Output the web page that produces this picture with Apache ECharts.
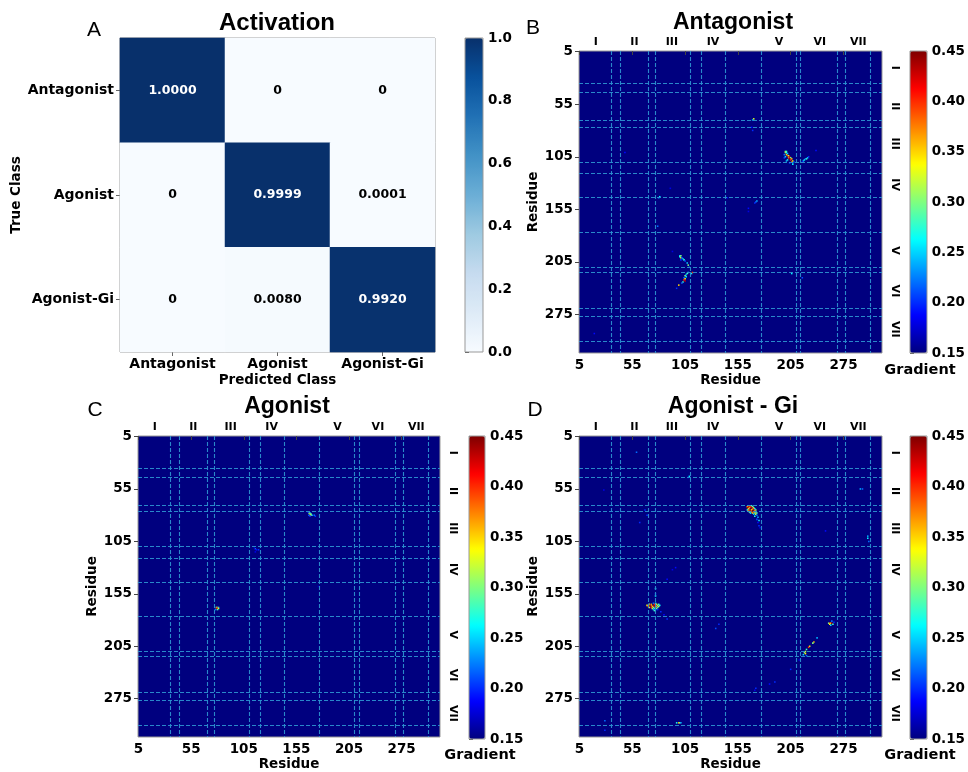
<!DOCTYPE html>
<html><head><meta charset="utf-8">
<script src="https://cdn.jsdelivr.net/npm/echarts@6/dist/echarts.min.js"></script>
<style>html,body{margin:0;padding:0;background:#fff}#c{width:968px;height:772px}</style>
</head><body><div id="c"></div>
<script>
// ---------- data ----------
const classNames = ['Antagonist', 'Agonist', 'Agonist-Gi'];
const confusionValues = [
  [1.0000, 0, 0],
  [0, 0.9999, 0.0001],
  [0, 0.0080, 0.9920]
];
const residueCount = 287;
const residueTickIndex = [0, 50, 100, 150, 200, 250];
const residueTickLabels = ['5', '55', '105', '155', '205', '275'];
const helixLabels = ['I', 'II', 'III', 'IV', 'V', 'VI', 'VII'];
const helixCenters = [16, 52.5, 88, 127, 189.5, 228, 264.5];
const helixBounds = [31, 39.5, 66, 72, 105.3, 116.2, 139, 172.2, 205.4, 210, 244.3, 252, 276];
const panelTitles = ['Antagonist', 'Agonist', 'Agonist - Gi'];
const panelLetters = ['B', 'C', 'D'];

// [x index, y index, gradient]
const antagonistCells = [
  [195,95,0.30],[196,95,0.28],[195,96,0.32],[196,96,0.27],[197,97,0.25],[194,98,0.22],[196,98,0.35],[197,99,0.40],
  [198,99,0.33],[199,100,0.42],[198,101,0.38],[200,101,0.30],[199,102,0.44],[201,102,0.36],[197,103,0.27],[200,103,0.40],
  [202,104,0.34],[196,104,0.24],[201,105,0.38],[203,105,0.22],[199,106,0.20],[202,107,0.26],[195,100,0.25],[194,101,0.21],
  [212,104,0.24],[213,103,0.26],[214,102,0.22],[215,102,0.28],[216,101,0.25],[217,100,0.20],[211,105,0.19],
  [224,94,0.19],[165,64,0.33],[164,65,0.24],[163,72,0.19],[164,75,0.20],[43,96,0.19],[76,138,0.26],[75,139,0.22],
  [86,130,0.18],[140,139,0.18],[168,142,0.24],[167,143,0.22],[166,144,0.20],[160,149,0.19],[160,152,0.18],[74,166,0.22],
  [14,268,0.19],
  [95,194,0.25],[96,194,0.30],[95,195,0.27],[96,196,0.34],[97,196,0.22],[98,197,0.24],[96,198,0.20],[99,198,0.27],
  [100,199,0.21],[102,201,0.25],[103,203,0.30],[104,205,0.22],[107,210,0.40],[106,211,0.26],[103,210,0.25],[102,211,0.28],
  [101,212,0.24],[100,213,0.30],[101,214,0.26],[99,215,0.22],[100,216,0.34],[99,217,0.40],[100,218,0.43],[98,219,0.28],
  [97,220,0.22],[94,222,0.35],[92,225,0.20],[88,190,0.18],[201,211,0.26],[211,215,0.21]
];
const agonistCells = [
  [162,73,0.30],[163,73,0.25],[163,74,0.35],[164,74,0.28],[162,75,0.22],[164,75,0.33],[165,75,0.24],[163,76,0.20],
  [168,76,0.20],[167,75,0.22],[161,72,0.19],
  [74,163,0.30],[75,163,0.38],[76,163,0.25],[74,164,0.42],[75,164,0.44],[76,164,0.33],[75,165,0.28],[73,165,0.22],
  [111,107,0.21],[112,108,0.19],[114,108,0.20],[111,110,0.18],[110,106,0.17],[171,143,0.17]
];
const agonistGiCells = [
  [160,66,0.30],[161,66,0.38],[163,66,0.28],[159,67,0.35],[160,67,0.42],[162,67,0.40],[164,67,0.30],[159,68,0.44],
  [161,68,0.36],[163,68,0.43],[165,68,0.32],[160,69,0.33],[162,69,0.45],[164,69,0.38],[166,69,0.27],[159,70,0.28],
  [161,70,0.40],[163,70,0.34],[165,70,0.42],[167,70,0.30],[160,71,0.37],[162,71,0.42],[164,71,0.45],[166,71,0.36],
  [161,72,0.30],[163,72,0.38],[165,72,0.40],[167,72,0.33],[162,73,0.26],[164,73,0.35],[166,73,0.30],[168,73,0.28],
  [165,74,0.25],[167,74,0.32],[168,75,0.22],[166,76,0.27],[169,77,0.24],[168,79,0.21],[170,80,0.26],[169,82,0.19],
  [170,85,0.20],[171,87,0.18],
  [70,159,0.22],[72,159,0.25],[66,160,0.30],[68,160,0.36],[71,160,0.40],[73,160,0.33],[75,160,0.28],[64,161,0.34],
  [66,161,0.42],[68,161,0.38],[70,161,0.44],[72,161,0.41],[74,161,0.30],[76,161,0.26],[65,162,0.40],[67,162,0.45],
  [69,162,0.35],[71,162,0.43],[73,162,0.36],[75,162,0.32],[66,163,0.33],[68,163,0.40],[70,163,0.30],[72,163,0.38],
  [74,163,0.28],[69,164,0.32],[71,164,0.27],[73,164,0.30],[70,165,0.24],[72,165,0.22],[71,166,0.28],[74,165,0.20],
  [77,167,0.20],[72,152,0.26],[72,150,0.20],[80,170,0.19],
  [236,178,0.30],[237,178,0.40],[238,178,0.36],[239,178,0.44],[240,179,0.28],[237,179,0.33],[238,180,0.25],[239,176,0.22],
  [241,177,0.20],
  [225,192,0.24],[222,196,0.36],[221,197,0.30],[218,200,0.33],[217,201,0.40],[215,203,0.28],[214,205,0.32],[213,206,0.30],
  [214,207,0.34],[212,208,0.25],[215,209,0.22],[208,213,0.18],
  [200,222,0.20],[185,234,0.20],[180,236,0.19],[167,240,0.20],[166,242,0.18],[92,273,0.27],[94,273,0.36],[95,273,0.30],
  [96,273,0.24],[24,271,0.22],[24,280,0.20],[273,95,0.24],[273,97,0.26],[274,100,0.22],[266,50,0.24],[268,50,0.22],
  [104,38,0.26],[103,39,0.20],[54,15,0.22],[57,82,0.20],[64,75,0.20],[72,145,0.26],[91,125,0.19],[88,127,0.18],
  [83,136,0.19],[83,174,0.20],[132,179,0.20],[129,183,0.21],[233,90,0.19],[23,51,0.18],[62,70,0.20]
];

// ---------- styles ----------
const FONT = 'DejaVu Sans';
const TFONT = 'Liberation Sans';
const jet = ['#00007f','#0000ff','#007fff','#00ffff','#7fff7f','#ffff00','#ff7f00','#ff0000','#7f0000'];
const blues = ['#f7fbff','#deebf7','#c6dbef','#9ecae1','#6baed6','#4292c6','#2171b5','#08519c','#08306b'];
const tickLabel = {fontFamily: FONT, fontWeight: 'bold', fontSize: 13.5, color: '#000'};
const nameStyle = {fontFamily: FONT, fontWeight: 'bold', fontSize: 13.5, color: '#000'};

const option = {animation: false, backgroundColor: '#fff', grid: [], xAxis: [], yAxis: [], series: [], visualMap: [], graphic: []};
const addGrid = g => (option.grid.push(g), option.grid.length - 1);
const addX = a => (option.xAxis.push(a), option.xAxis.length - 1);
const addY = a => (option.yAxis.push(a), option.yAxis.length - 1);
const addText = (text, x, y, size, bold, fam) => option.graphic.push({
  type: 'text', x, y, z: 100,
  style: {text, fontFamily: fam || TFONT, fontSize: size, fontWeight: bold ? 'bold' : 'normal', fill: '#000', textAlign: 'center', textVerticalAlign: 'middle'}
});
const addFrame = (x, y, w, h) => option.graphic.push({
  type: 'rect', z: 100, shape: {x: x, y: y, width: w, height: h}, style: {fill: 'none', stroke: '#999', lineWidth: 1}
});

// colour bar tick axes
function colorbarAxes(left, top, width, height, min, max, interval, digits) {
  const g = addGrid({left, top, width, height});
  addX({type: 'value', gridIndex: g, show: false, min: 0, max: 1});
  addY({type: 'value', gridIndex: g, min, max, interval, position: 'right',
    axisLine: {show: false}, axisTick: {show: true, length: 4, lineStyle: {color: '#444'}},
    axisLabel: {...tickLabel, margin: 5, formatter: v => v.toFixed(digits)}, splitLine: {show: false}});
  addFrame(left, top, width, height);
}

// ---------- Panel A ----------
const gA = addGrid({left: 120, top: 38, width: 315, height: 314, show: true, borderColor: '#888', borderWidth: 1, backgroundColor: 'transparent'});
const xA = addX({type: 'category', gridIndex: gA, data: classNames, position: 'bottom',
  axisLine: {show: false}, axisTick: {show: true, alignWithLabel: true, length: 4, lineStyle: {color: '#666'}},
  axisLabel: {...tickLabel, fontSize: 14, margin: 5, interval: 0}, splitLine: {show: false},
  name: 'Predicted Class', nameLocation: 'middle', nameGap: 21, nameTextStyle: nameStyle});
const yA = addY({type: 'category', gridIndex: gA, data: classNames, inverse: true,
  axisLine: {show: false}, axisTick: {show: true, alignWithLabel: true, length: 4, lineStyle: {color: '#666'}},
  axisLabel: {...tickLabel, fontSize: 14, margin: 6, interval: 0}, splitLine: {show: false},
  name: 'True Class', nameLocation: 'middle', nameGap: 96, nameTextStyle: nameStyle});
const confData = [];
confusionValues.forEach((row, r) => row.forEach((v, c) => confData.push({value: [c, r, v], label: {color: v > 0.5 ? '#fff' : '#000'}})));
option.series.push({type: 'heatmap', xAxisIndex: xA, yAxisIndex: yA, data: confData,
  label: {show: true, fontFamily: FONT, fontWeight: 'bold', fontSize: 12.5, formatter: p => p.value[2] === 0 ? '0' : p.value[2].toFixed(4)},
  emphasis: {disabled: true}});
option.visualMap.push({type: 'continuous', seriesIndex: option.series.length - 1, min: 0, max: 1, inRange: {color: blues},
  left: 465, top: 38, itemWidth: 18, itemHeight: 314, calculable: false, padding: 0, orient: 'vertical', hoverLink: false, text: null});
colorbarAxes(465, 38, 18, 314, 0, 1, 0.2, 1);
addText('A', 94, 30, 21, false);
addText('Activation', 277, 23, 24, true);

// ---------- Panels B, C, D ----------
const idx = Array.from({length: residueCount}, (_, i) => i);
const tickPos = residueTickIndex.map(i => i + 0.5);
const panelCells = [antagonistCells, agonistCells, agonistGiCells];
const layout = [
  {gx: 579, gy: 51, gw: 303, gh: 302, cbx: 910, cbw: 17, tx: 733, ty: 23, lx: 533, ly: 28, gradX: 920, gradY: 370},
  {gx: 138, gy: 436, gw: 302, gh: 303, cbx: 469, cbw: 16, tx: 287, ty: 407, lx: 95, ly: 410, gradX: 480, gradY: 755},
  {gx: 579, gy: 436, gw: 303, gh: 303, cbx: 910, cbw: 17, tx: 733, ty: 407, lx: 535, ly: 410, gradX: 920, gradY: 755}
];
layout.forEach((L, k) => {
  const g = addGrid({left: L.gx, top: L.gy, width: L.gw, height: L.gh, show: true, backgroundColor: '#00007f', borderColor: '#999', borderWidth: 1});
  const xc = addX({type: 'category', gridIndex: g, data: idx, show: false});
  const yc = addY({type: 'category', gridIndex: g, data: idx, inverse: true, show: false});
  const xb = addX({type: 'value', gridIndex: g, min: 0, max: residueCount, position: 'bottom',
    axisLine: {show: false}, splitLine: {show: false},
    axisTick: {show: true, length: 4, customValues: tickPos, lineStyle: {color: '#444'}},
    axisLabel: {...tickLabel, margin: 5, customValues: tickPos, formatter: v => residueTickLabels[tickPos.indexOf(v)] || ''},
    name: 'Residue', nameLocation: 'middle', nameGap: 20, nameTextStyle: nameStyle});
  addX({type: 'value', gridIndex: g, min: 0, max: residueCount, position: 'top',
    axisLine: {show: false}, splitLine: {show: false}, axisTick: {show: false},
    axisLabel: {fontFamily: FONT, fontWeight: 'bold', fontSize: 11, color: '#000', margin: 3, customValues: helixCenters,
      formatter: v => helixLabels[helixCenters.indexOf(v)] || ''}});
  const yl = addY({type: 'value', gridIndex: g, min: 0, max: residueCount, inverse: true, position: 'left',
    axisLine: {show: false}, splitLine: {show: false},
    axisTick: {show: true, length: 4, customValues: tickPos, lineStyle: {color: '#444'}},
    axisLabel: {...tickLabel, margin: 6, customValues: tickPos, formatter: v => residueTickLabels[tickPos.indexOf(v)] || ''},
    name: 'Residue', nameLocation: 'middle', nameGap: 36, nameTextStyle: nameStyle});
  addY({type: 'value', gridIndex: g, min: 0, max: residueCount, inverse: true, position: 'right',
    axisLine: {show: false}, splitLine: {show: false}, axisTick: {show: false},
    axisLabel: {fontFamily: FONT, fontWeight: 'bold', fontSize: 11, color: '#000', margin: 7, rotate: -90, customValues: helixCenters,
      formatter: v => helixLabels[helixCenters.indexOf(v)] || ''}});
  option.series.push({type: 'heatmap', xAxisIndex: xc, yAxisIndex: yc, data: panelCells[k], emphasis: {disabled: true}});
  const si = option.series.length - 1;
  option.series.push({type: 'line', xAxisIndex: xb, yAxisIndex: yl, data: [], z: 5,
    markLine: {silent: true, symbol: ['none', 'none'], label: {show: false}, animation: false,
      lineStyle: {color: '#2b8fcf', type: [4, 2], width: 1.1, opacity: 0.95},
      data: helixBounds.map(v => ({xAxis: v})).concat(helixBounds.map(v => ({yAxis: v})))}});
  option.visualMap.push({type: 'continuous', seriesIndex: si, min: 0.15, max: 0.45, inRange: {color: jet},
    left: L.cbx, top: L.gy, itemWidth: L.cbw, itemHeight: L.gh, calculable: false, padding: 0, orient: 'vertical', hoverLink: false, text: null});
  colorbarAxes(L.cbx, L.gy, L.cbw, L.gh, 0.15, 0.45, 0.05, 2);
  addText(panelLetters[k], L.lx, L.ly, 21, false);
  addText(panelTitles[k], L.tx, L.ty, 23, true);
  addText('Gradient', L.gradX, L.gradY, 14.5, true, FONT);
});

const chart = echarts.init(document.getElementById('c'), null, {renderer: 'canvas'});
chart.setOption(option);
</script></body></html>
